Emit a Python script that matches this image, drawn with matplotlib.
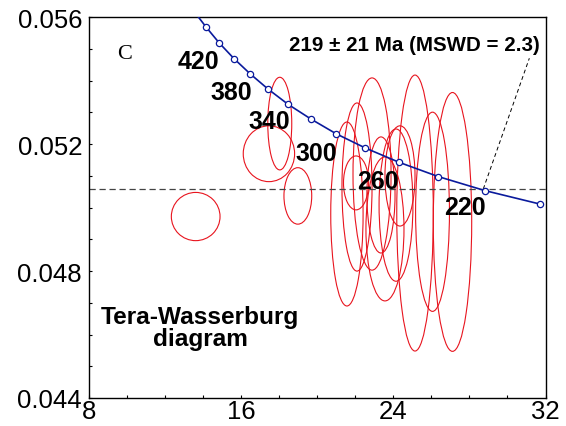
import matplotlib
matplotlib.use('Agg')
import matplotlib.pyplot as plt
from matplotlib.patches import Ellipse
from matplotlib.ticker import MultipleLocator, FormatStrFormatter

plt.rcParams['font.family'] = ['Liberation Sans', 'DejaVu Sans']

# concordia (Ma)
edades = [200, 220, 240, 260, 280, 300, 320, 340, 360, 380, 400, 420, 440, 460]
conc_x = [31.73, 28.80, 26.36, 24.30, 22.53, 20.99, 19.65, 18.46, 17.41, 16.47, 15.62, 14.85, 14.16, 13.52]
conc_y = [0.05011, 0.05054, 0.05098, 0.05143, 0.05188, 0.05233, 0.05280, 0.05326, 0.05374, 0.05422,
          0.05470, 0.05519, 0.05569, 0.05619]

# etiquetas de edad sobre la curva
etiquetas = ['420', '380', '340', '300', '260', '220']
etiq_x = [13.77, 15.48, 17.47, 19.97, 23.21, 27.77]
etiq_y = [0.05462, 0.05366, 0.05272, 0.05173, 0.05085, 0.05003]

# elipses de error: centro x, centro y, semieje x, semieje y
elip_x = [13.61, 17.46, 18.03, 18.98, 22.04, 22.88, 22.09, 21.56, 23.35, 23.56, 24.14, 24.35, 26.06, 25.14, 27.11]
elip_y = [0.04972, 0.05170, 0.05265, 0.05037, 0.05078, 0.05106, 0.05065, 0.04980, 0.05040, 0.04933,
          0.05008, 0.05100, 0.04987, 0.04983, 0.04955]
elip_sx = [1.28, 1.35, 0.63, 0.73, 0.66, 1.00, 0.79, 0.85, 0.74, 1.00, 0.89, 0.79, 0.89, 0.96, 1.01]
elip_sy = [0.00076, 0.00088, 0.00146, 0.00089, 0.00085, 0.00303, 0.00265, 0.00290, 0.00183, 0.00227,
           0.00240, 0.00158, 0.00314, 0.00435, 0.00408]

intercepto_y = 0.05059
linea_x = [28.73, 31.15]
linea_y = [0.05059, 0.05471]

fig = plt.figure(figsize=(5.66, 4.27), dpi=100)
ax = fig.add_axes([0.1572, 0.0656, 0.8066, 0.8915])

for x, y, sx, sy in zip(elip_x, elip_y, elip_sx, elip_sy):
    e = Ellipse((x, y), 2 * sx, 2 * sy, fill=False, edgecolor='#e8141e', linewidth=0.8)
    ax.add_patch(e)

ax.axhline(intercepto_y, color='#444444', linestyle=(0, (5, 3)), linewidth=0.9)
ax.plot(linea_x, linea_y, color='black', linestyle=(0, (4, 3)), linewidth=0.7)

ax.plot(conc_x, conc_y, color='#0a1a9c', linewidth=1.2, marker='o', markersize=4.5,
        markerfacecolor='white', markeredgecolor='#0a1a9c', markeredgewidth=0.9, zorder=5)

for t, x, y in zip(etiquetas, etiq_x, etiq_y):
    ax.text(x, y, t, fontsize=18, fontweight='bold', ha='center', va='center', zorder=6)

ax.text(0.078, 0.905, 'C', transform=ax.transAxes, fontsize=16, family='Liberation Serif',
        ha='center', va='center')
ax.text(31.7, 0.05498, '219 ± 21 Ma (MSWD = 2.3)', fontsize=14.8, fontweight='bold', ha='right',
        va='baseline')
ax.text(13.84, 0.04636, 'Tera-Wasserburg', fontsize=17.6, fontweight='bold', ha='center', va='baseline')
ax.text(13.84, 0.04567, 'diagram', fontsize=17.6, fontweight='bold', ha='center', va='baseline')

ax.set_xlim(8, 32)
ax.set_ylim(0.044, 0.056)
ax.xaxis.set_major_locator(MultipleLocator(8))
ax.xaxis.set_minor_locator(MultipleLocator(2))
ax.yaxis.set_major_locator(MultipleLocator(0.004))
ax.yaxis.set_minor_locator(MultipleLocator(0.001))
ax.yaxis.set_major_formatter(FormatStrFormatter('%.3f'))
ax.tick_params(which='both', direction='in', length=2.4, width=0.8, labelsize=18.5)
ax.tick_params(axis='x', pad=1)
ax.tick_params(axis='y', pad=5)
for s in ax.spines.values():
    s.set_linewidth(1.0)

fig.savefig('out.png', dpi=100)
